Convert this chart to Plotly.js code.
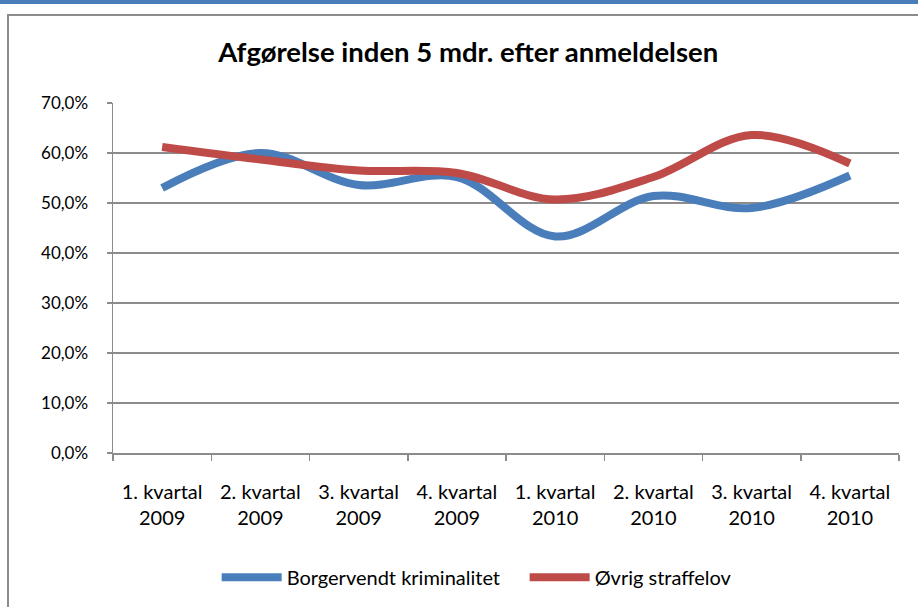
<!DOCTYPE html>
<html>
<head>
<meta charset="utf-8">
<script src="https://cdn.plot.ly/plotly-3.0.1.min.js"></script>
<style>
  html, body { margin: 0; padding: 0; background: #fff; }
  #wrap { position: relative; width: 918px; height: 607px; overflow: hidden; }
  #topbar { position: absolute; left: 0; top: 0; width: 918px; height: 4px; background: #4a7ebb; }
  #frame { position: absolute; left: 7px; top: 14px; width: 920px; height: 600px;
           border-left: 2px solid #8c8c8c; border-top: 2px solid #8c8c8c; }
  #chart { position: absolute; left: 0; top: 0; width: 918px; height: 607px; }
</style>
</head>
<body>
<div id="wrap">
  <div id="topbar"></div>
  <div id="frame"></div>
  <div id="chart"></div>
</div>
<script>
// kvartaler
const quarters = [
  "1. kvartal<br>2009", "2. kvartal<br>2009", "3. kvartal<br>2009", "4. kvartal<br>2009",
  "1. kvartal<br>2010", "2. kvartal<br>2010", "3. kvartal<br>2010", "4. kvartal<br>2010"
];

// andel afgjort inden 5 mdr. (%)
const borgervendt = [53.0, 60.0, 53.6, 55.2, 43.3, 51.4, 49.0, 55.5];
const oevrig = [61.2, 58.7, 56.5, 56.0, 50.7, 55.2, 63.6, 57.9];

const yTicks = [0, 10, 20, 30, 40, 50, 60, 70];
const yTickText = yTicks.map(v => v.toFixed(1).replace(".", ",") + "%");

const font = "Lato, 'Open Sans', sans-serif";

const traces = [
  {
    x: quarters, y: borgervendt, type: "scatter", mode: "lines",
    name: "Borgervendt kriminalitet",
    line: { color: "#4a7ebb", width: 8, shape: "spline", smoothing: 1 }
  },
  {
    x: quarters, y: oevrig, type: "scatter", mode: "lines",
    name: "Øvrig straffelov",
    line: { color: "#be4b48", width: 8, shape: "spline", smoothing: 1 }
  }
];

const layout = {
  width: 918, height: 607,
  margin: { l: 113, r: 19, t: 103, b: 153.5, autoexpand: false },
  paper_bgcolor: "rgba(0,0,0,0)",
  plot_bgcolor: "rgba(0,0,0,0)",
  font: { family: font, size: 18, color: "#000" },
  title: {
    text: "<b>Afgørelse inden 5 mdr. efter anmeldelsen</b>",
    font: { family: font, size: 27.5, color: "#000" },
    x: 0.51, xanchor: "center", y: 0.913, yanchor: "middle"
  },
  xaxis: {
    type: "category",
    showline: true, linecolor: "#8c8c8c", linewidth: 1.5,
    ticks: "outside", tickson: "boundaries", ticklen: 6, tickcolor: "#8c8c8c", tickwidth: 1.5,
    showgrid: false, zeroline: false,
    tickfont: { family: font, size: 20 },
    ticklabelstandoff: 20,
    range: [-0.5, 7.5]
  },
  yaxis: {
    range: [0, 70],
    tickvals: yTicks, ticktext: yTickText,
    showline: true, linecolor: "#8c8c8c", linewidth: 1.5,
    ticks: "outside", ticklen: 5, tickcolor: "#8c8c8c", tickwidth: 1.5,
    showgrid: true, gridcolor: "#8c8c8c", gridwidth: 1.5,
    zeroline: false,
    tickfont: { family: font, size: 17 },
    ticklabelstandoff: 15
  },
  showlegend: true,
  legend: {
    orientation: "h", xref: "container", x: 0.236, xanchor: "left", y: -0.355, yanchor: "middle",
    font: { family: font, size: 20 },
    itemwidth: 60, entrywidth: 233, entrywidthmode: "pixels", traceorder: "normal"
  }
};

Plotly.newPlot("chart", traces, layout, { displayModeBar: false, staticPlot: true });
</script>
</body>
</html>
